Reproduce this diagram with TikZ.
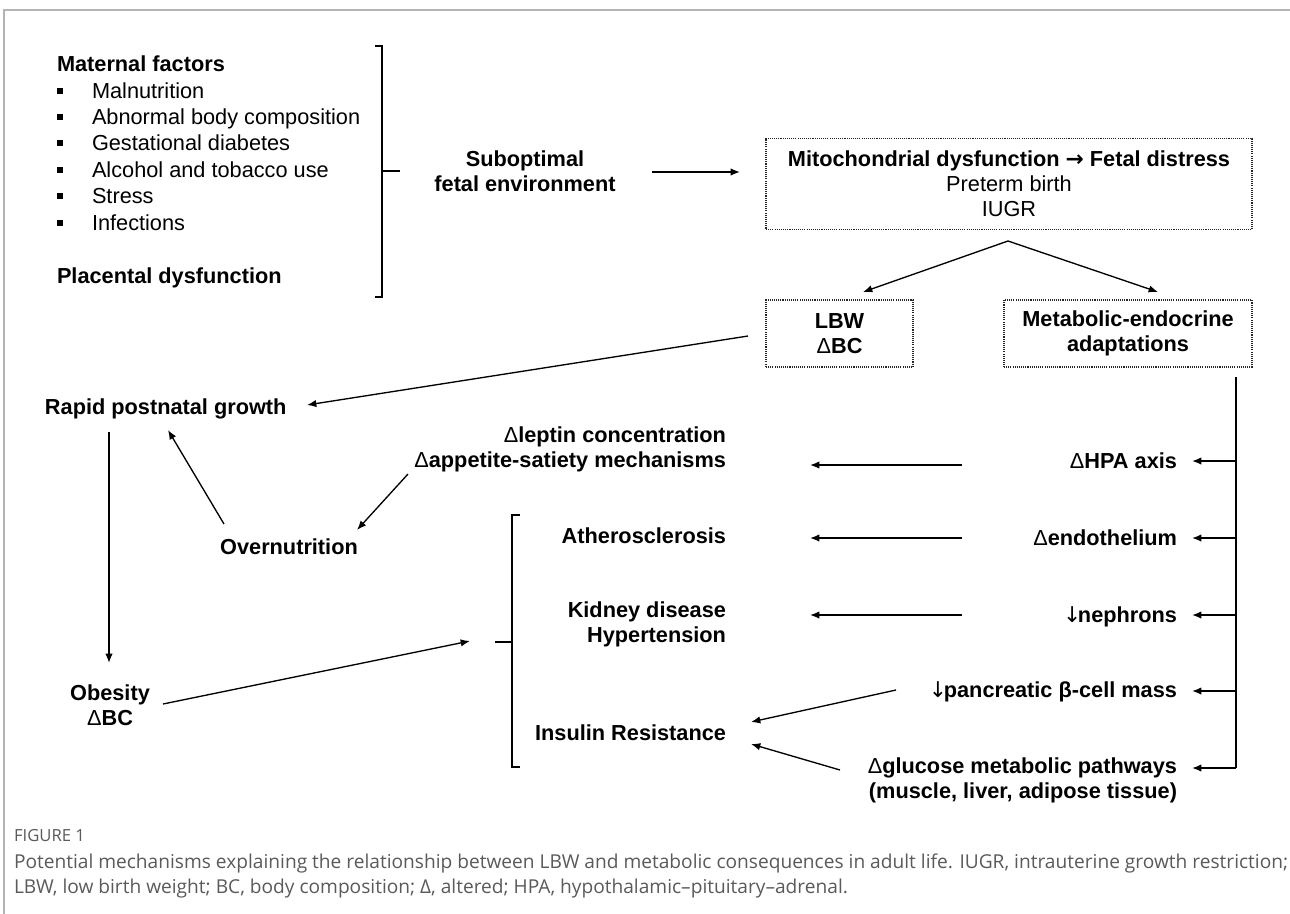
\documentclass[tikz,border=0pt]{standalone}
\usepackage{fontspec}
\setmainfont{Liberation Sans}
\newfontfamily\capfont{Open Sans}
\newfontfamily\symfont{DejaVu Sans}
\usetikzlibrary{arrows.meta}
\definecolor{capgray}{HTML}{5A5A5A}
\definecolor{framegray}{HTML}{B4B4B4}
\newcommand{\dlt}{{\mdseries Δ}}
\newcommand{\dnarr}{{\symfont\mdseries ↓}\hspace{-2.5pt}}
\begin{document}
\begin{tikzpicture}[x=0.75pt,y=-0.75pt,
  every node/.style={inner sep=0pt, outer sep=0pt},
  bl/.style={font=\bfseries\fontsize{16.3}{18.75}\selectfont},
  rg/.style={font=\fontsize{16.3}{18.75}\selectfont},
  arr/.style={line width=1pt, -{Latex[length=7pt,width=5.5pt]}},
  conn/.style={line width=1pt},
  brk/.style={line width=1.4pt},
  dbox/.style={draw=black!85, line width=0.8pt, dash pattern=on 0.8pt off 0.8pt},
  bul/.style={fill=black, minimum size=4.5pt},
  captext/.style={font=\capfont\fontsize{14.35}{18.75}\selectfont, text=capgray},
]
\fill[white] (0,0) rectangle (1290,914);
\useasboundingbox (0,0) rectangle (1290,914);
% frame
\draw[framegray, line width=1pt] (1290,10) -- (4,10) -- (4,914);

% left column
\node[bl, anchor=base west] (mf) at (57,71) {Maternal factors};
\node[bul] (b1) at (60,91) {};
\node[bul] (b2) at (60,117) {};
\node[bul] (b3) at (60,143) {};
\node[bul] (b4) at (60,170) {};
\node[bul] (b5) at (60,196) {};
\node[bul] (b6) at (60,223) {};
\node[rg, anchor=base west] (i1) at (92,98) {Malnutrition};
\node[rg, anchor=base west] (i2) at (92,124) {Abnormal body composition};
\node[rg, anchor=base west] (i3) at (92,150) {Gestational diabetes};
\node[rg, anchor=base west] (i4) at (92,177) {Alcohol and tobacco use};
\node[rg, anchor=base west] (i5) at (92,203) {Stress};
\node[rg, anchor=base west] (i6) at (92,230) {Infections};
\node[bl, anchor=base west] (pd) at (57,283) {Placental dysfunction};

% right bracket
\draw[brk] (375,46) -- (382,46) -- (382,297) -- (375,297);
\draw[brk] (382,171) -- (400,171);

\node[bl, anchor=base, align=center] (sub) at (525,191) {Suboptimal\\fetal environment};

% boxes
\node[dbox, rg, minimum width=364.5pt, minimum height=68.25pt, align=center] (mito) at (1009,184)
  {\textbf{Mitochondrial dysfunction {\symfont\bfseries →} Fetal distress}\\Preterm birth\\IUGR};
\node[dbox, bl, minimum width=110.25pt, minimum height=50.25pt, align=center] (lbw) at (839.5,333.5)
  {LBW\\\dlt BC};
\node[dbox, bl, minimum width=186pt, minimum height=50.25pt, align=center] (metab) at (1128,333.5)
  {Metabolic-endocrine\\adaptations};

% left lower
\node[bl, anchor=base west] (rapid) at (45,414) {Rapid postnatal growth};
\node[bl, anchor=base] (overn) at (289,554) {Overnutrition};
\node[bl, anchor=base, align=center] (obes) at (110,725) {Obesity\\\dlt BC};

% middle column
\node[bl, anchor=base east, align=right] (lep) at (726,467) {\dlt leptin concentration\\\dlt appetite-satiety mechanisms};
\node[bl, anchor=base east] (ath) at (726,543) {Atherosclerosis};
\node[bl, anchor=base east, align=right] (kid) at (726,642) {Kidney disease\\Hypertension};
\node[bl, anchor=base east] (ins) at (726,740) {Insulin Resistance};

% right column
\node[bl, anchor=base east] (hpa) at (1177,468) {\dlt HPA axis};
\node[bl, anchor=base east] (endo) at (1177,545) {\dlt endothelium};
\node[bl, anchor=base east] (neph) at (1177,622) {\dnarr nephrons};
\node[bl, anchor=base east] (panc) at (1177,697) {\dnarr pancreatic β-cell mass};
\node[bl, anchor=base east, align=right] (gluc) at (1177,798) {\dlt glucose metabolic pathways\\(muscle, liver, adipose tissue)};

% left bracket
\draw[brk] (520,515) -- (512,515) -- (512,767) -- (520,767);
\draw[brk] (495,642) -- (512,642);

% connector end points
\coordinate (subR) at (652,172);
\coordinate (mitoL) at (740,172);
\coordinate (apex) at (1008,241);
\coordinate (lbwT) at (863,292);
\coordinate (metT) at (1158,292);
\coordinate (lbwL) at (748,336);
\coordinate (rapR) at (307,405);
\coordinate (rapB) at (109,432);
\coordinate (obeT) at (109,663);
\coordinate (ovnT) at (224,524);
\coordinate (rapB2) at (168,430);
\coordinate (lepB) at (408,474);
\coordinate (ovnR) at (357,530);
\coordinate (obeR) at (163,704);
\coordinate (brkL) at (470,641);
\coordinate (hpaL) at (962,465);
\coordinate (lepR) at (810,465);
\coordinate (endL) at (962,538);
\coordinate (athR) at (810,538);
\coordinate (nepL) at (962,615);
\coordinate (kidR) at (810,615);
\coordinate (panL) at (896,690);
\coordinate (insR1) at (751,722);
\coordinate (gluL) at (840,770);
\coordinate (insR2) at (751,744);
\coordinate (trTop) at (1236,377);
\coordinate (tr1) at (1236,461);
\coordinate (tr2) at (1236,538);
\coordinate (tr3) at (1236,615);
\coordinate (tr4) at (1236,691);
\coordinate (tr5) at (1236,768);
\coordinate (hpaR) at (1192,461);
\coordinate (endR) at (1192,538);
\coordinate (nepR) at (1192,615);
\coordinate (panR) at (1192,691);
\coordinate (gluR) at (1192,768);

% connectors
\draw[arr] (subR) -- (mitoL);
\draw[arr] (apex) -- (lbwT);
\draw[arr] (apex) -- (metT);
\draw[arr] (lbwL) -- (rapR);
\draw[arr] (rapB) -- (obeT);
\draw[arr] (ovnT) -- (rapB2);
\draw[arr] (lepB) -- (ovnR);
\draw[arr] (obeR) -- (brkL);
\draw[arr] (hpaL) -- (lepR);
\draw[arr] (endL) -- (athR);
\draw[arr] (nepL) -- (kidR);
\draw[arr] (panL) -- (insR1);
\draw[arr] (gluL) -- (insR2);
\draw[conn] (trTop) -- (tr5);
\draw[arr] (tr1) -- (hpaR);
\draw[arr] (tr2) -- (endR);
\draw[arr] (tr3) -- (nepR);
\draw[arr] (tr4) -- (panR);
\draw[arr] (tr5) -- (gluR);

% caption
\node[anchor=base west, font=\capfont\fontsize{12.5}{13}\selectfont, text=capgray] (fig) at (14,841) {FIGURE 1};
\node[captext, anchor=base west] (cap1) at (14,868) {Potential mechanisms explaining the relationship between LBW and metabolic consequences in adult life. IUGR, intrauterine growth restriction;};
\node[captext, anchor=base west] (cap2) at (14,893) {LBW, low birth weight; BC, body composition; Δ, altered; HPA, hypothalamic–pituitary–adrenal.};
\end{tikzpicture}
\end{document}
